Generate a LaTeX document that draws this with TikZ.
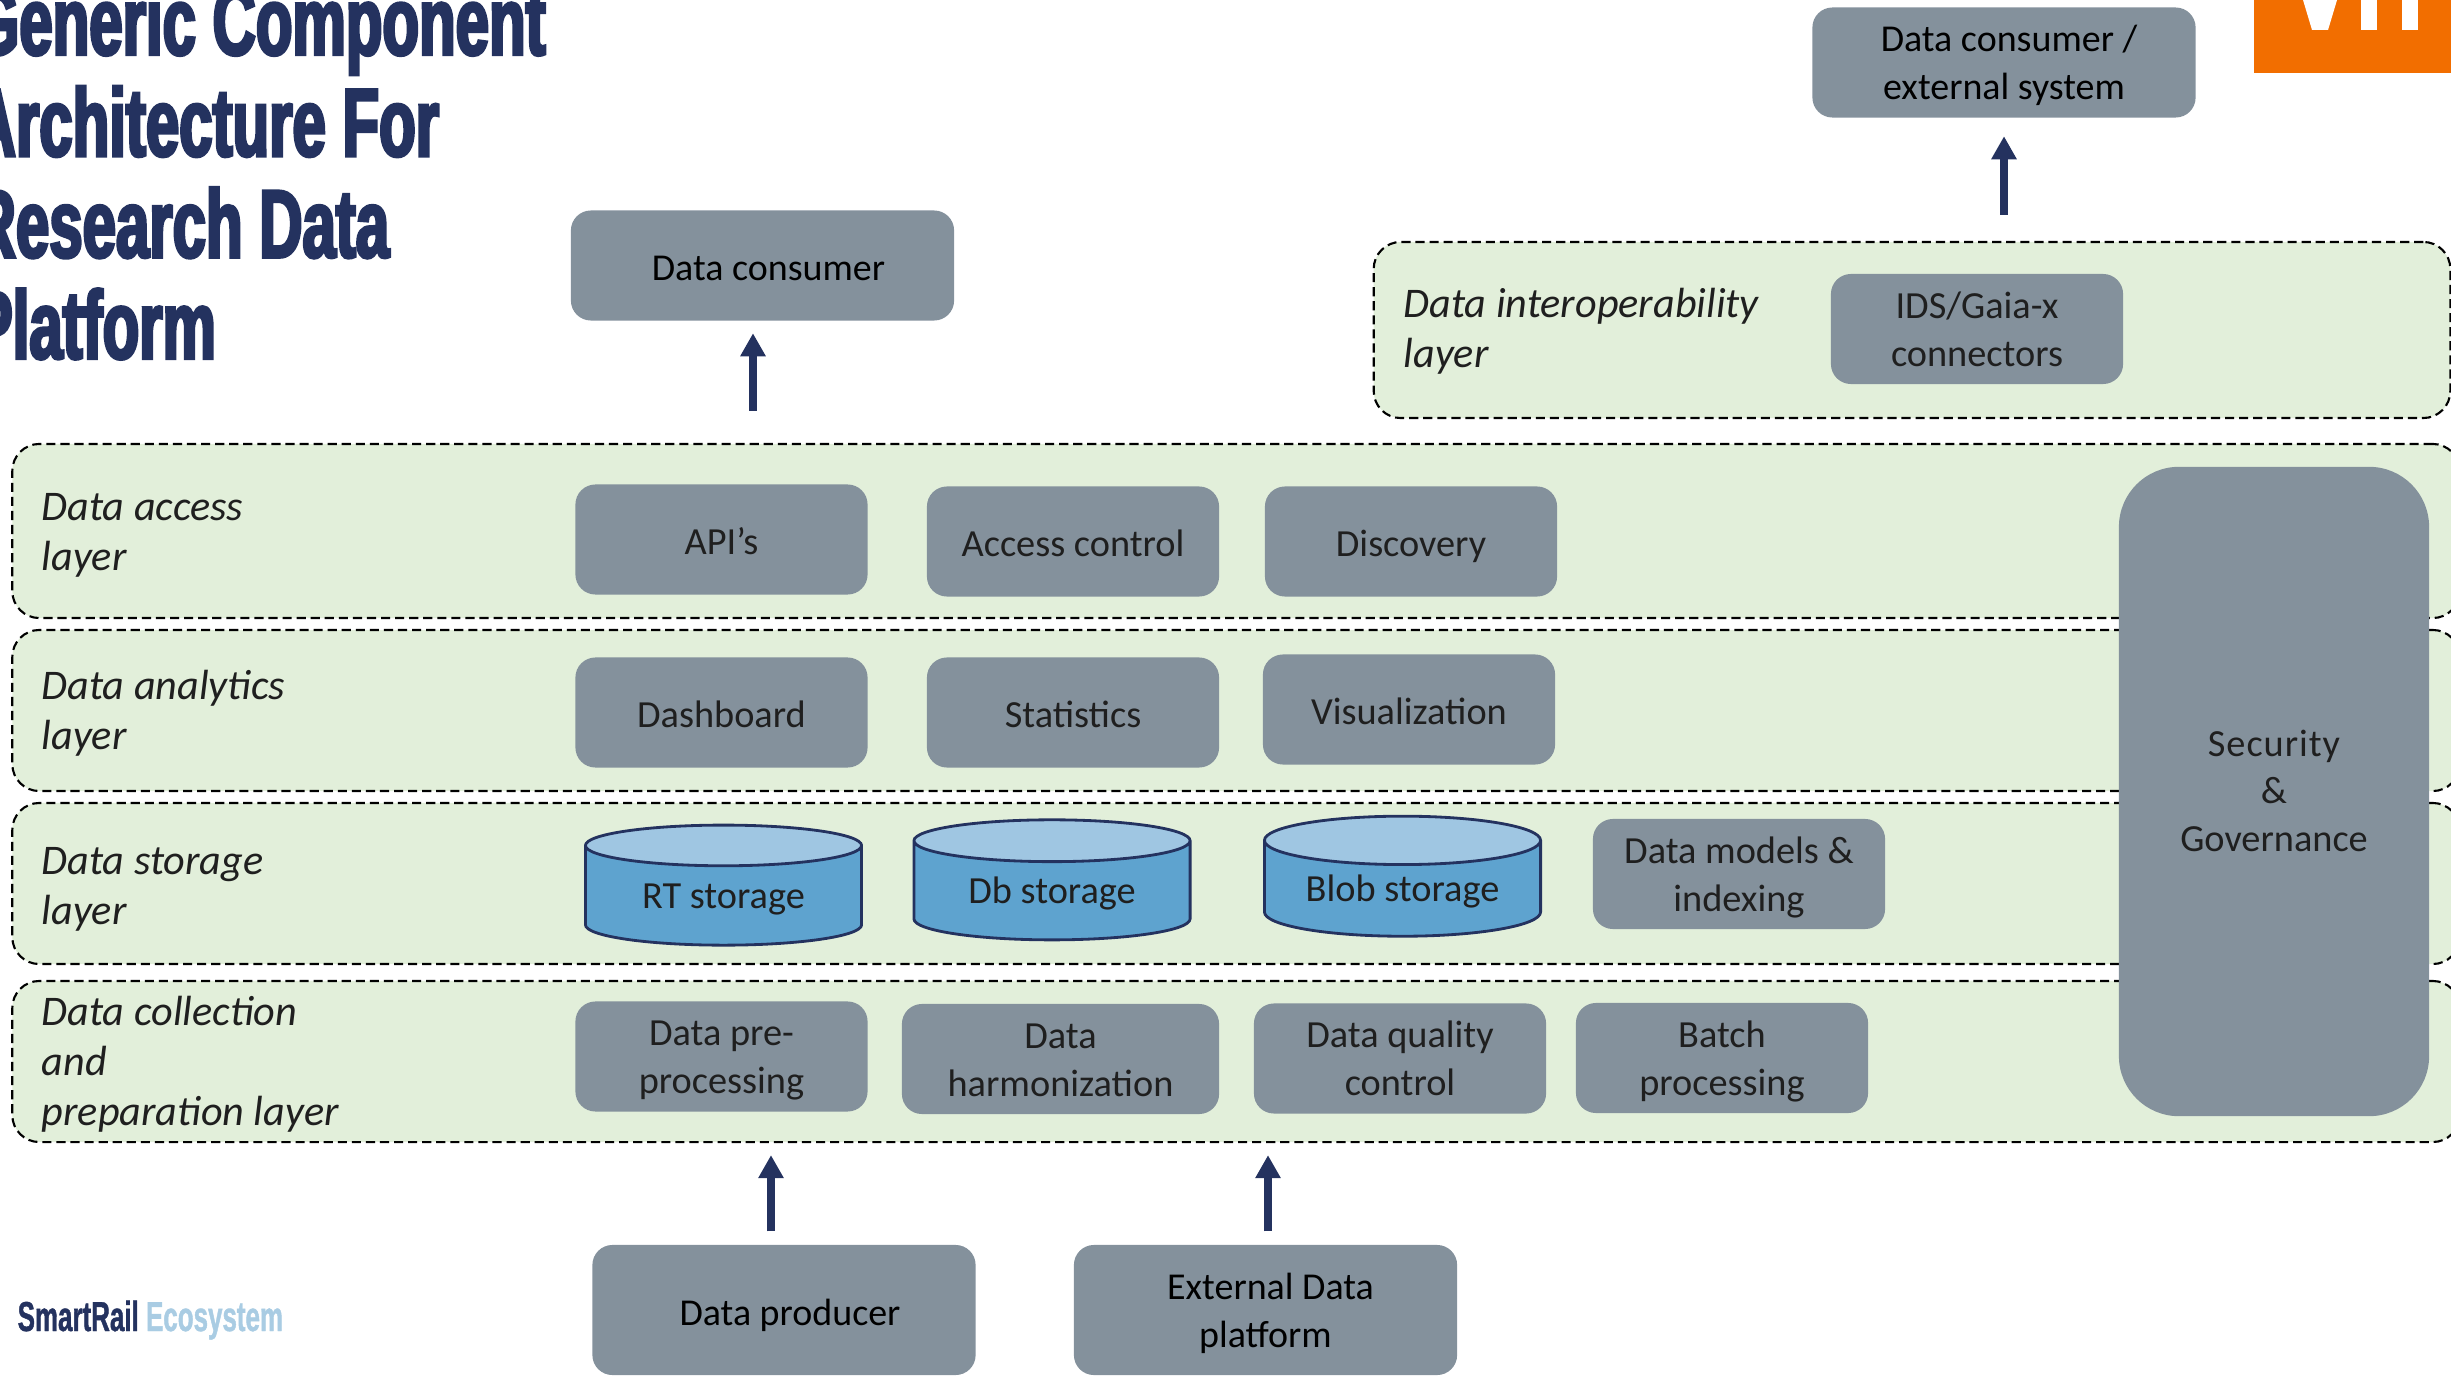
\documentclass[tikz,border=0pt]{standalone}
\usepackage{fontspec}
\setmainfont{Carlito}
\newfontfamily\titlefont[FakeStretch=0.62,FakeBold=3]{Liberation Sans Bold}
\newfontfamily\logofont[FakeStretch=0.62,FakeBold=1]{Liberation Sans Bold}
\usetikzlibrary{arrows.meta,shapes.geometric}

\definecolor{navy}{HTML}{24325F}
\definecolor{slate}{HTML}{84919C}
\definecolor{layergreen}{HTML}{E2EFDA}
\definecolor{drumblue}{HTML}{5EA3CF}
\definecolor{drumtop}{HTML}{9FC6E2}
\definecolor{skyblue}{HTML}{A9CCE3}
\definecolor{vttorange}{HTML}{F26E00}

\begin{document}
\begin{tikzpicture}[
    x = 0.01cm,
    y = -0.01cm,
    >={Triangle[width=0.24cm,length=0.23cm]},
    flow/.style = {
      ->,
      navy,
      line width = 0.085cm
    },
    layerbox/.style = {
      draw,
      fill = layergreen,
      dash pattern = on 2.6pt off 1.4pt,
      line width = 0.6pt,
      rounded corners = 0.27cm,
      inner sep = 0pt
    },
    layerlabel/.style = {
      anchor = base west,
      align = left,
      inner sep = 0pt,
      text = black!88,
      font = \fontsize{12}{14.2}\selectfont\itshape
    },
    greybox/.style = {
      fill = slate,
      rounded corners = 0.2cm,
      align = center,
      inner sep = 0pt,
      text = black!88,
      font = \fontsize{10.9}{13.6}\selectfont,
      text height = 8.7pt,
      text depth = 0pt,
      minimum width = 2.92cm,
      minimum height = 1.10cm
    },
    bigbox/.style = {
      greybox,
      text = black,
      font = \fontsize{10.8}{13.6}\selectfont,
      minimum width = 3.83cm
    },
    pairbox/.style = {
      text height = 21.2pt
    },
    drum/.style = {
      shape = cylinder,
      shape border rotate = 90,
      cylinder uses custom fill,
      cylinder body fill = drumblue,
      cylinder end fill = drumtop,
      draw = navy,
      line width = 0.8pt,
      aspect = 0.25,
      inner sep = 0pt,
      text = black!88,
      text height = 8.7pt,
      font = \fontsize{10.9}{13.6}\selectfont,
      minimum width = 2.76cm,
      minimum height = 1.2cm
    }
  ]
  \path[use as bounding box,clip] (0,0) rectangle (2451,1376);

  % title and logos
  \node[anchor=north west, align=left, inner sep=0pt, navy,
    font=\titlefont\fontsize{27.5}{28.8}\selectfont] (title) at (-28,-16)
    {Generic Component\\Architecture For\\Research Data\\Platform};
  \node[anchor=base west, inner sep=0pt, font=\logofont\fontsize{11.9}{13}\selectfont] (smartrail) at (17,1331)
    {\textcolor{navy}{SmartRail} \textcolor{skyblue}{Ecosystem}};

  \fill[vttorange] (2254,0) rectangle (2451,73);
  \fill[white] (2303,0) -- (2337,0) -- (2328,30) -- (2312,30) -- cycle;
  \fill[white] (2361,0) rectangle (2377,30);
  \fill[white] (2402,0) rectangle (2418,30);

  % layers
  \node[layerbox, minimum width=10.76cm, minimum height=1.76cm] (interoplayer) at (1912,330) {};
  \node[layerbox, minimum width=24.46cm, minimum height=1.74cm] (accesslayer) at (1236,531) {};
  \node[layerbox, minimum width=24.46cm, minimum height=1.61cm] (analyticslayer) at (1236,710.5) {};
  \node[layerbox, minimum width=24.46cm, minimum height=1.61cm] (storagelayer) at (1236,883.5) {};
  \node[layerbox, minimum width=24.46cm, minimum height=1.61cm] (collectionlayer) at (1236,1061.5) {};

  \node[layerlabel] (interoplabel) at (1403,367) {Data interoperability\\layer};
  \node[layerlabel] (accesslabel) at (41,570) {Data access\\layer};
  \node[layerlabel] (analyticslabel) at (41,749) {Data analytics\\layer};
  \node[layerlabel] (storagelabel) at (41,924) {Data storage\\layer};
  \node[layerlabel] (collectionlabel) at (41,1125) {Data collection\\and\\preparation layer};

  % outside boxes
  \node[bigbox] (dataconsumer) at (762.5,265.5) {\hspace*{0.12cm}Data consumer};
  \node[bigbox, pairbox] (externalsystem) at (2004,62.5) {\hspace*{0.1cm}Data consumer /\\external system};
  \node[bigbox, minimum height=1.30cm] (dataproducer) at (784,1310) {\hspace*{0.12cm}Data producer};
  \node[bigbox, pairbox, minimum height=1.30cm] (externalplatform) at (1265.5,1310) {\hspace*{0.1cm}External Data\\platform};

  % access
  \node[greybox, pairbox] (connectors) at (1977,329) {IDS/Gaia-x\\connectors};
  \node[greybox] (apis) at (721.5,539.5) {API's};
  \node[greybox] (accesscontrol) at (1073,541.5) {Access control};
  \node[greybox] (discovery) at (1411,541.5) {Discovery};

  % analytics
  \node[greybox] (dashboard) at (721.5,712.5) {Dashboard};
  \node[greybox] (statistics) at (1073,712.5) {Statistics};
  \node[greybox] (visualization) at (1409,709.5) {Visualization};

  % storage
  \node[drum] (rtstorage) at (723.5,896) {RT storage};
  \node[drum] (dbstorage) at (1052,891) {Db storage};
  \node[drum] (blobstorage) at (1402.5,889) {Blob storage};
  \node[greybox, pairbox] (datamodels) at (1739,874) {Data models \&\\indexing};

  % collection
  \node[greybox, pairbox] (preprocessing) at (721.5,1056.5) {Data pre-\\processing};
  \node[greybox, pairbox, minimum width=3.17cm] (harmonization) at (1060.5,1059) {Data\\harmonization};
  \node[greybox, pairbox] (qualitycontrol) at (1400,1058.5) {Data quality\\control};
  \node[greybox, pairbox] (batchprocessing) at (1722,1058) {Batch\\processing};

  \node[greybox, text height=34.3pt, rounded corners=0.6cm, minimum width=3.10cm, minimum height=6.49cm] (security) at (2274,791.5)
    {\addfontfeatures{LetterSpace=2.5}Security\\\&\\Governance};

  % arrows
  \coordinate (consumerx) at (753,0);
  \coordinate (systemx) at (2004,0);
  \coordinate (producerx) at (771,0);
  \coordinate (platformx) at (1268,0);
  \draw[flow, shorten <=0.32cm, shorten >=0.12cm] (accesslayer.north -| consumerx) -- (dataconsumer.south -| consumerx);
  \draw[flow, shorten <=0.26cm, shorten >=0.18cm] (interoplayer.north -| systemx) -- (externalsystem.south -| systemx);
  \draw[flow, shorten <=0.13cm, shorten >=0.12cm] (dataproducer.north -| producerx) -- (collectionlayer.south -| producerx);
  \draw[flow, shorten <=0.13cm, shorten >=0.12cm] (externalplatform.north -| platformx) -- (collectionlayer.south -| platformx);
\end{tikzpicture}
\end{document}
